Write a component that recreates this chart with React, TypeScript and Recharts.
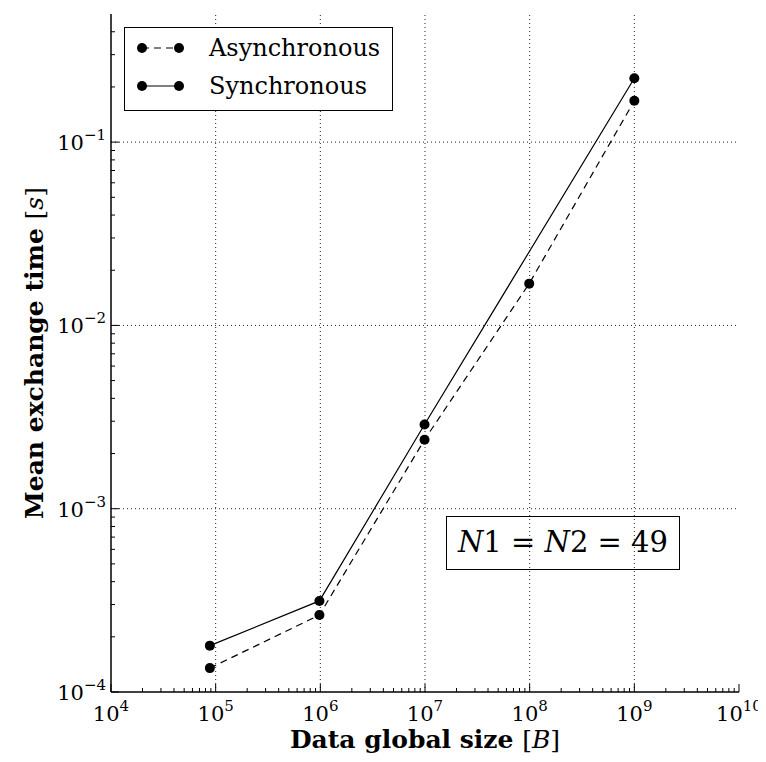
import React from 'react';
import { ComposedChart, Line, XAxis, YAxis, ReferenceLine, Legend, Customized } from 'recharts';

const FONT = '"DejaVu Serif", serif';

// ---- tick definitions ----
const xMajorTicks = [1e4, 1e5, 1e6, 1e7, 1e8, 1e9, 1e10];
const xMajorExponents = ['4', '5', '6', '7', '8', '9', '10'];
const yMajorTicks = [1e-4, 1e-3, 1e-2, 1e-1];
const yMajorExponents = ['\u22124', '\u22123', '\u22122', '\u22121'];
const minorMultipliers = [2, 3, 4, 5, 6, 7, 8, 9];
const xGridValues = [1e5, 1e6, 1e7, 1e8, 1e9];
const yGridValues = [1e-3, 1e-2, 1e-1];

// ---- data ----
const seriesNames = ['Asynchronous', 'Synchronous'];
const asyncSizes = [8.8e4, 9.8e5, 9.9e6, 9.9e7, 1.0e9];
const asyncTimes = [1.35e-4, 2.63e-4, 2.38e-3, 1.69e-2, 0.168];
const syncSizes = [8.8e4, 9.8e5, 9.9e6, 1.0e9];
const syncTimes = [1.79e-4, 3.14e-4, 2.88e-3, 0.223];

const asyncData = asyncSizes.map((x, i) => ({ x, y: asyncTimes[i] }));
const syncData = syncSizes.map((x, i) => ({ x, y: syncTimes[i] }));

const X_DOMAIN: [number, number] = [1e4, 1e10];
const Y_DOMAIN: [number, number] = [1e-4, 0.5];

const xMinor = xMajorTicks.slice(0, -1).flatMap((t) => minorMultipliers.map((m) => m * t));
const yMinor = yMajorTicks.flatMap((t) => minorMultipliers.map((m) => m * t)).filter((v) => v < 0.5);
const xAllTicks = [...xMajorTicks, ...xMinor].sort((a, b) => a - b);
const yAllTicks = [...yMajorTicks, ...yMinor].sort((a, b) => a - b);

const MAJOR_LEN = 8;
const MINOR_LEN = 4;
const MARGIN = 8;

const majorIndex = (v: number, majors: number[]) => majors.findIndex((m) => Math.abs(v / m - 1) < 1e-6);

const BottomTick = (props: any) => {
  const { x, y, payload } = props;
  const idx = majorIndex(payload.value, xMajorTicks);
  const axisY = y - MARGIN;
  const len = idx >= 0 ? MAJOR_LEN : MINOR_LEN;
  return (
    <g>
      <line x1={x} y1={axisY} x2={x} y2={axisY - len} stroke="#000" strokeWidth={1} />
      {idx >= 0 && (
        <text x={x} y={axisY + 29} textAnchor="middle" fontFamily={FONT} fontSize={21} fill="#000">
          <tspan>10</tspan>
          <tspan dy={-10} fontSize={15}>{xMajorExponents[idx]}</tspan>
        </text>
      )}
    </g>
  );
};

const TopTick = (props: any) => {
  const { x, y, payload } = props;
  const idx = majorIndex(payload.value, xMajorTicks);
  const len = idx >= 0 ? MAJOR_LEN : MINOR_LEN;
  return <line x1={x} y1={y} x2={x} y2={y + len} stroke="#000" strokeWidth={1} />;
};

const LeftTick = (props: any) => {
  const { x, y, payload } = props;
  const idx = majorIndex(payload.value, yMajorTicks);
  const axisX = x + MARGIN;
  const len = idx >= 0 ? MAJOR_LEN : MINOR_LEN;
  return (
    <g>
      <line x1={axisX} y1={y} x2={axisX + len} y2={y} stroke="#000" strokeWidth={1} />
      {idx >= 0 && (
        <text x={axisX - 5} y={y + 8} textAnchor="end" fontFamily={FONT} fontSize={21} fill="#000">
          <tspan>10</tspan>
          <tspan dy={-10} fontSize={15}>{yMajorExponents[idx]}</tspan>
        </text>
      )}
    </g>
  );
};

const RightTick = (props: any) => {
  const { x, y, payload } = props;
  const idx = majorIndex(payload.value, yMajorTicks);
  const len = idx >= 0 ? MAJOR_LEN : MINOR_LEN;
  return <line x1={x} y1={y} x2={x - len} y2={y} stroke="#000" strokeWidth={1} />;
};

const LegendBox = () => (
  <svg width={270} height={85} style={{ display: 'block' }}>
    <rect x={0.5} y={0.5} width={268} height={83} fill="#fff" stroke="#000" strokeWidth={1} />
    {seriesNames.map((name, i) => {
      const cy = i === 0 ? 21 : 59;
      return (
        <g key={name}>
          <line x1={18} y1={cy} x2={55} y2={cy} stroke="#000" strokeWidth={1.2} strokeDasharray={i === 0 ? '7 5' : undefined} strokeDashoffset={i === 0 ? -12 : 0} />
          <circle cx={18} cy={cy} r={5} fill="#000" />
          <circle cx={55} cy={cy} r={5} fill="#000" />
          <text x={85} y={cy + 8} fontFamily={FONT} fontSize={24} fill="#000">{name}</text>
        </g>
      );
    })}
  </svg>
);

const Annotations = () => (
  <g>
    <text x={417} y={740} textAnchor="middle" fontFamily={FONT} fontSize={25} fill="#000">
      <tspan fontWeight="bold">Data global size </tspan>
      <tspan>[</tspan>
      <tspan fontStyle="italic">B</tspan>
      <tspan>]</tspan>
    </text>
    <text x={35} y={345} transform="rotate(-90 35 345)" textAnchor="middle" fontFamily={FONT} fontSize={25} fill="#000">
      <tspan fontWeight="bold">Mean exchange time </tspan>
      <tspan>[</tspan>
      <tspan fontStyle="italic">s</tspan>
      <tspan>]</tspan>
    </text>
    <rect x={438.5} y={508.5} width={233} height={53} fill="#fff" stroke="#000" strokeWidth={1} />
    <text x={555} y={544} textAnchor="middle" fontFamily={FONT} fontSize={29} fill="#000">
      <tspan fontStyle="italic">N</tspan>
      <tspan>1 = </tspan>
      <tspan fontStyle="italic">N</tspan>
      <tspan>2 = 49</tspan>
    </text>
  </g>
);

export default function App() {
  return (
    <ComposedChart width={758} height={746} margin={{ top: 6, right: 27, bottom: 2, left: 0 }}>
      <XAxis
        dataKey="x"
        type="number"
        scale="log"
        domain={X_DOMAIN}
        ticks={xAllTicks}
        interval={0}
        tickSize={0}
        tickMargin={MARGIN}
        tickLine={false}
        tick={<BottomTick />}
        axisLine={{ stroke: '#000', strokeWidth: 1.5 }}
        height={60}
        allowDataOverflow
      />
      <XAxis
        xAxisId="top"
        orientation="top"
        dataKey="x"
        type="number"
        scale="log"
        domain={X_DOMAIN}
        ticks={xAllTicks}
        interval={0}
        tickSize={0}
        tickMargin={0}
        tickLine={false}
        tick={<TopTick />}
        axisLine={{ stroke: '#000', strokeWidth: 1.5 }}
        height={0}
        allowDataOverflow
      />
      <YAxis
        type="number"
        scale="log"
        domain={Y_DOMAIN}
        ticks={yAllTicks}
        interval={0}
        tickSize={0}
        tickMargin={MARGIN}
        tickLine={false}
        tick={<LeftTick />}
        axisLine={{ stroke: '#000', strokeWidth: 1.5 }}
        width={103}
        allowDataOverflow
      />
      <YAxis
        yAxisId="right"
        orientation="right"
        type="number"
        scale="log"
        domain={Y_DOMAIN}
        ticks={yAllTicks}
        interval={0}
        tickSize={0}
        tickMargin={0}
        tickLine={false}
        tick={<RightTick />}
        axisLine={{ stroke: '#000', strokeWidth: 1.5 }}
        width={0}
        allowDataOverflow
      />
      {xGridValues.map((v) => (
        <ReferenceLine key={'gx' + v} x={v} stroke="#222" strokeWidth={1} strokeDasharray="1 3" />
      ))}
      {yGridValues.map((v) => (
        <ReferenceLine key={'gy' + v} y={v} stroke="#222" strokeWidth={1} strokeDasharray="1 3" />
      ))}
      <Line
        data={asyncData}
        dataKey="y"
        name={seriesNames[0]}
        type="linear"
        stroke="#000"
        strokeWidth={1.2}
        strokeDasharray="7 5"
        dot={{ r: 5, fill: '#000', stroke: '#000', strokeWidth: 0 }}
        activeDot={false}
        isAnimationActive={false}
      />
      <Line
        data={syncData}
        dataKey="y"
        name={seriesNames[1]}
        type="linear"
        stroke="#000"
        strokeWidth={1.2}
        dot={{ r: 5, fill: '#000', stroke: '#000', strokeWidth: 0 }}
        activeDot={false}
        isAnimationActive={false}
      />
      <Customized component={Annotations} />
      <Legend
        layout="vertical"
        align="center"
        verticalAlign="middle"
        content={() => <LegendBox />}
        wrapperStyle={{ position: 'absolute', left: 116, top: 19, width: 270, height: 85 }}
      />
    </ComposedChart>
  );
}
